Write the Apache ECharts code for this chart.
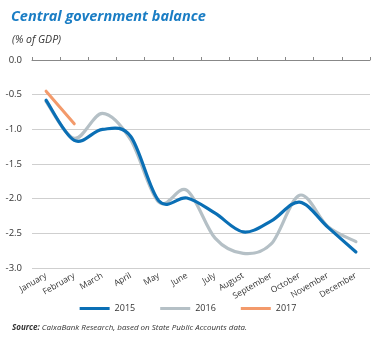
<!DOCTYPE html>
<html><head><meta charset="utf-8">
<script src="https://cdn.jsdelivr.net/npm/echarts@6/dist/echarts.min.js"></script>
<style>html,body{margin:0;padding:0;background:#fff}#c{width:376px;height:338px}</style>
</head><body><div id="c"></div>
<script>
const months = ["January","February","March","April","May","June","July","August","September","October","November","December"];
const s2015 = [-0.58,-1.16,-1.0,-1.1,-2.03,-1.99,-2.21,-2.48,-2.32,-2.05,-2.41,-2.77];
const s2016 = [-0.6,-1.13,-0.77,-1.15,-2.05,-1.88,-2.57,-2.79,-2.65,-1.95,-2.4,-2.62];
const s2017 = [-0.45,-0.92];
const yTicks = [0,-0.5,-1,-1.5,-2,-2.5,-3];
const FONT = "'Open Sans', sans-serif";

// Catmull-Rom (Excel-style) smoothed line drawn through the axis scales via api.coord
function smoothRender(width, color){
  return function(params, api){
    if (params.dataIndexInside !== 0) return null;
    const n = params.dataInsideLength;
    const p = [];
    for (let i=0;i<n;i++) p.push(api.coord([api.value(0,i), api.value(1,i)]));
    let d = 'M' + p[0][0] + ' ' + p[0][1];
    for (let i=0;i<n-1;i++){
      const p0 = p[Math.max(i-1,0)], p1 = p[i], p2 = p[i+1], p3 = p[Math.min(i+2,n-1)];
      const c1 = [p1[0] + (p2[0]-p0[0])/6, p1[1] + (p2[1]-p0[1])/6];
      const c2 = [p2[0] - (p3[0]-p1[0])/6, p2[1] - (p3[1]-p1[1])/6];
      d += ' C' + c1[0] + ' ' + c1[1] + ' ' + c2[0] + ' ' + c2[1] + ' ' + p2[0] + ' ' + p2[1];
    }
    return {type:'path', shape:{pathData:d}, style:{fill:null, stroke:color, lineWidth:width, lineCap:'round', lineJoin:'round'}};
  };
}
const C15 = '#0a6fb5', C16 = '#b5c0c6', C17 = '#f39a6b';
const toData = arr => arr.map((v,i)=>[i,v]);

const chart = echarts.init(document.getElementById('c'), null, {renderer:'canvas'});
chart.setOption({
  animation:false,
  textStyle:{fontFamily:FONT},
  title:[
    {text:"Central government balance", left:6, top:4, textStyle:{fontFamily:FONT,fontSize:14.5,fontWeight:'bold',fontStyle:'italic',color:'#1a7dc4'}},
    {text:"(% of GDP)", left:7, top:30, textStyle:{fontFamily:FONT,fontSize:10.5,fontWeight:'normal',fontStyle:'italic',color:'#333'}},
    {text:"{b|Source:} CaixaBank Research, based on State Public Accounts data.", left:7, top:319,
     textStyle:{fontFamily:FONT,fontSize:8,fontStyle:'italic',fontWeight:'normal',color:'#333',rich:{b:{fontFamily:FONT,fontSize:8,fontStyle:'italic',fontWeight:'bold',color:'#333'}}}}
  ],
  legend:{bottom:20, left:'center', itemWidth:30, itemHeight:3, itemGap:25, icon:'rect',
    textStyle:{fontFamily:FONT,fontSize:9,color:'#333'}, data:['2015','2016','2017']},
  grid:{left:32, right:6, top:60, bottom:70},
  xAxis:[
    {type:'category', data:months, position:'bottom', boundaryGap:true,
      axisLine:{show:false}, axisTick:{show:false},
      axisLabel:{rotate:30, fontSize:8.5, color:'#333', margin:7, fontFamily:FONT, interval:0}},
    {type:'category', data:months, position:'top', boundaryGap:true,
      axisLine:{show:true, lineStyle:{color:'#888', width:1}},
      axisTick:{show:true, length:3, lineStyle:{color:'#888'}, interval:0},
      axisLabel:{show:false}}
  ],
  yAxis:{type:'value', min:-3, max:0, interval:0.5,
    axisLine:{show:false}, axisTick:{show:false},
    splitLine:{lineStyle:{color:'#cfcfcf', width:1}},
    axisLabel:{fontSize:9.5, color:'#333', margin:10, fontFamily:FONT,
      formatter:v=>v.toFixed(1)}},
  series:[
    {name:'2016', type:'custom', data:toData(s2016), encode:{x:0,y:1}, renderItem:smoothRender(3.2,C16), itemStyle:{color:C16}, z:2},
    {name:'2015', type:'custom', data:toData(s2015), encode:{x:0,y:1}, renderItem:smoothRender(3.2,C15), itemStyle:{color:C15}, z:3},
    {name:'2017', type:'custom', data:toData(s2017), encode:{x:0,y:1}, renderItem:smoothRender(3,C17), itemStyle:{color:C17}, z:4}
  ]
});
</script></body></html>
